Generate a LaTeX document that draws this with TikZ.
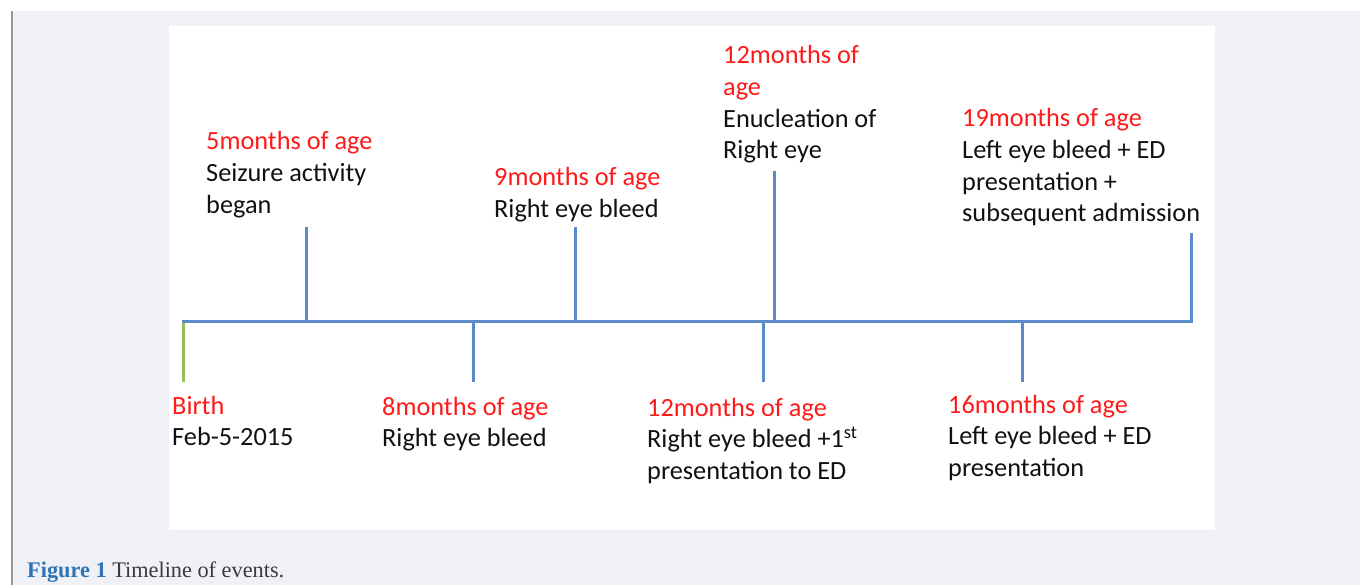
\documentclass[tikz,border=0pt]{standalone}
\usepackage{fontspec}
\setmainfont{Carlito}
\newfontfamily\capfont{Liberation Serif}
\definecolor{bgc}{HTML}{F0F1F7}
\definecolor{edgec}{HTML}{999999}
\definecolor{linec}{HTML}{5B8BC8}
\definecolor{birthc}{HTML}{9BBB59}
\definecolor{redc}{HTML}{FF1A1A}
\definecolor{txtc}{HTML}{111111}
\definecolor{figc}{HTML}{2E74B5}
\definecolor{capc}{HTML}{3A3A3A}
\begin{document}
\begin{tikzpicture}[x=1pt,y=-1pt,
  axis/.style={draw=linec,line width=3pt},
  tick/.style={draw=linec,line width=3pt},
  birthtick/.style={draw=birthc,line width=3pt},
  lbl/.style={anchor=base west,inner sep=0pt,text=txtc,font=\fontsize{26.3}{31.6}\selectfont},
  hd/.style={text=redc}]
\useasboundingbox (0,0) rectangle (1360,585);
\fill[white] (0,0) rectangle (1360,585);
\fill[bgc] (12,11) rectangle (1360,585);
\draw[edgec,line width=2pt] (12,11) -- (12,585);
\fill[white] (169,26) rectangle (1215,530);
% axis coordinates
\coordinate (a0) at (182,322);
\coordinate (a1) at (1193,322);
\coordinate (b0) at (183,322); \coordinate (b1) at (183,382);
\coordinate (t5a) at (306,322); \coordinate (t5b) at (306,227);
\coordinate (t8a) at (473,322); \coordinate (t8b) at (473,382);
\coordinate (t9a) at (575,322); \coordinate (t9b) at (575,227);
\coordinate (t12a) at (763,322); \coordinate (t12b) at (763,382);
\coordinate (t12ua) at (774,322); \coordinate (t12ub) at (774,171);
\coordinate (t16a) at (1022,322); \coordinate (t16b) at (1022,382);
\coordinate (t19a) at (1191,322); \coordinate (t19b) at (1191,233);
\draw[birthtick] (b0) -- (b1);
\draw[tick] (t5a) -- (t5b);
\draw[tick] (t8a) -- (t8b);
\draw[tick] (t9a) -- (t9b);
\draw[tick] (t12a) -- (t12b);
\draw[tick] (t12ua) -- (t12ub);
\draw[tick] (t16a) -- (t16b);
\draw[tick] (t19a) -- (t19b);
\draw[axis] (a0) -- (a1);
% labels
\node[lbl] (l5) at (206,150) {\begin{tabular}[t]{@{}l@{}}\textcolor{redc}{5months of age}\\Seizure activity\\began\end{tabular}};
\node[lbl] (l9) at (494,186) {\begin{tabular}[t]{@{}l@{}}\textcolor{redc}{9months of age}\\Right eye bleed\end{tabular}};
\node[lbl] (l12u) at (723,64) {\begin{tabular}[t]{@{}l@{}}\textcolor{redc}{12months of}\\\textcolor{redc}{age}\\Enucleation of\\Right eye\end{tabular}};
\node[lbl] (l19) at (962,127) {\begin{tabular}[t]{@{}l@{}}\textcolor{redc}{19months of age}\\Left eye bleed + ED\\presentation +\\subsequent admission\end{tabular}};
\node[lbl] (lb) at (172,414) {\begin{tabular}[t]{@{}l@{}}\textcolor{redc}{Birth}\\Feb-5-2015\end{tabular}};
\node[lbl] (l8) at (382,415) {\begin{tabular}[t]{@{}l@{}}\textcolor{redc}{8months of age}\\Right eye bleed\end{tabular}};
\node[lbl] (l12) at (647,416) {\begin{tabular}[t]{@{}l@{}}\textcolor{redc}{12months of age}\\Right eye bleed +1\textsuperscript{st}\\presentation to ED\end{tabular}};
\node[lbl] (l16) at (948,413) {\begin{tabular}[t]{@{}l@{}}\textcolor{redc}{16months of age}\\Left eye bleed + ED\\presentation\end{tabular}};
% caption
\node[anchor=base west,inner sep=0pt,font=\capfont\fontsize{22.3}{26}\selectfont] (cap) at (27,577) {\textcolor{figc}{\bfseries Figure 1} \textcolor{capc}{Timeline of events.}};
\end{tikzpicture}
\end{document}
